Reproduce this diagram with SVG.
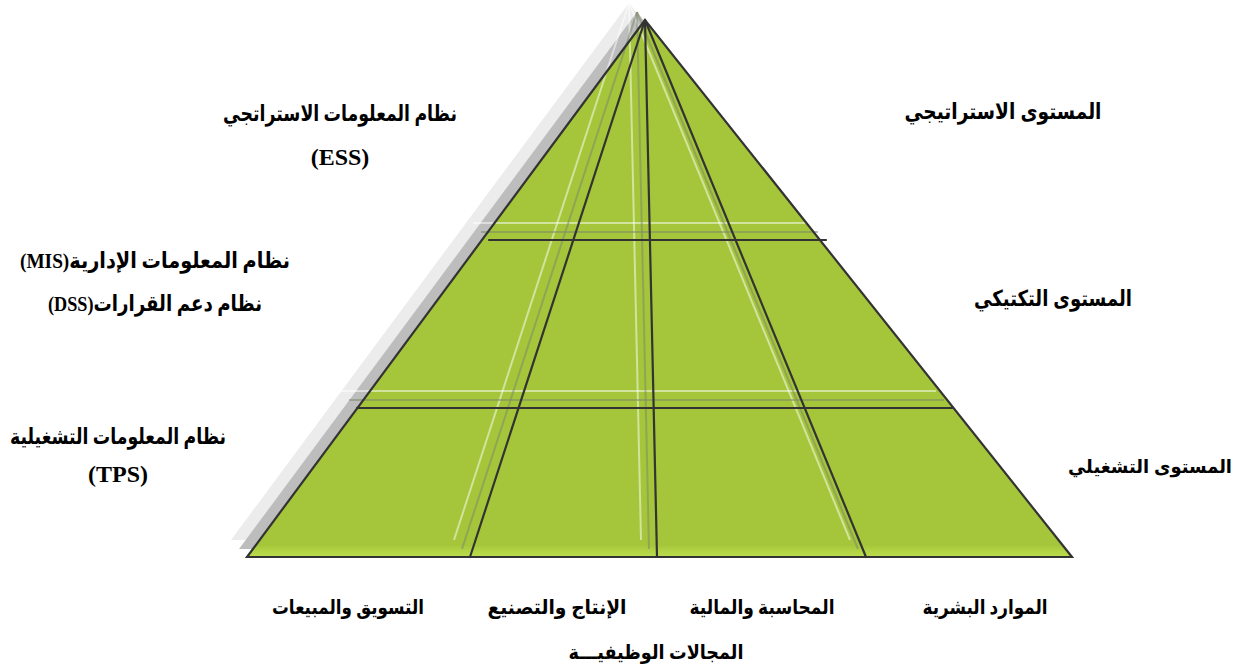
<svg xmlns="http://www.w3.org/2000/svg" width="1248" height="668" viewBox="0 0 1248 668">
<style>
.lbl{font-family:"Liberation Serif","DejaVu Sans",serif;font-weight:bold;fill:#000;}
.rlbl{font-family:"Liberation Sans","DejaVu Sans",sans-serif;font-weight:bold;fill:#000;}
.dark{stroke:#333;stroke-width:2.2;fill:none;stroke-linecap:round;}
.ghostg{stroke:#7f8a6a;stroke-opacity:0.55;stroke-width:2;fill:none;}
.ghostw{stroke:#ffffff;stroke-opacity:0.5;stroke-width:2;fill:none;}
</style>
<defs>
<linearGradient id="band" x1="0" y1="0" x2="0" y2="1">
<stop offset="0" stop-color="#a8c93c"/>
<stop offset="1" stop-color="#bcdf4e"/>
</linearGradient>
</defs>
<rect width="1248" height="668" fill="#ffffff"/>
<g id="pyramid">
<polygon points="629,3 231,540 1056,540" fill="#ececec"/>
<polygon points="637,12 239,549 1064,549" fill="#bdbdbd"/>
<polygon points="645,20 247,557 1072,557" fill="#a5c63a"/>
<polygon points="255,546 1064,546 1072,557 247,557" fill="url(#band)"/>
</g>
<g id="connectors">
<g id="ghost-white">
<line class="ghostw" x1="629" y1="3" x2="454" y2="540"/>
<line class="ghostw" x1="629" y1="3" x2="641" y2="540"/>
<line class="ghostw" x1="629" y1="3" x2="850" y2="540"/>
<line class="ghostw" x1="473" y1="223" x2="810" y2="223"/>
<line class="ghostw" x1="341" y1="391" x2="936" y2="391"/>
</g>
<g id="ghost-gray">
<line class="ghostg" x1="637" y1="12" x2="462" y2="549"/>
<line class="ghostg" x1="637" y1="12" x2="649" y2="549"/>
<line class="ghostg" x1="637" y1="12" x2="858" y2="549"/>
<line class="ghostg" x1="481" y1="232" x2="818" y2="232"/>
<line class="ghostg" x1="349" y1="400" x2="944" y2="400"/>
</g>
<g id="grid">
<polygon class="dark" points="645,20 247,557 1072,557"/>
<line class="dark" x1="645" y1="20" x2="470" y2="557"/>
<line class="dark" x1="645" y1="20" x2="657" y2="557"/>
<line class="dark" x1="645" y1="20" x2="866" y2="557"/>
<line class="dark" x1="489" y1="240" x2="826" y2="240"/>
<line class="dark" x1="357" y1="408" x2="952" y2="408"/>
</g>
</g>
<g id="left-labels">
<g id="ess">
<text class="lbl" x="340" y="121" font-size="22" text-anchor="middle" direction="rtl" textLength="234" lengthAdjust="spacingAndGlyphs">نظام المعلومات الاستراتجي</text>
<text class="lbl" x="340" y="165" font-size="24" text-anchor="middle">(ESS)</text>
</g>
<g id="mis-dss">
<text class="lbl" x="155" y="268" font-size="22" text-anchor="middle" direction="rtl" textLength="270" lengthAdjust="spacingAndGlyphs">نظام المعلومات الإدارية(MIS)</text>
<text class="lbl" x="155" y="311" font-size="22" text-anchor="middle" direction="rtl" textLength="214" lengthAdjust="spacingAndGlyphs">نظام دعم القرارات(DSS)</text>
</g>
<g id="tps">
<text class="lbl" x="118" y="444" font-size="22" text-anchor="middle" direction="rtl" textLength="216" lengthAdjust="spacingAndGlyphs">نظام المعلومات التشغيلية</text>
<text class="lbl" x="118" y="482" font-size="24" text-anchor="middle">(TPS)</text>
</g>
</g>
<g id="right-labels">
<text id="strategic" class="rlbl" x="1003" y="119" font-size="22" text-anchor="middle" direction="rtl" textLength="197" lengthAdjust="spacingAndGlyphs">المستوى الاستراتيجي</text>
<text id="tactical" class="rlbl" x="1053" y="306" font-size="22" text-anchor="middle" direction="rtl" textLength="158" lengthAdjust="spacingAndGlyphs">المستوى التكتيكي</text>
<text id="operational" class="rlbl" x="1150" y="473" font-size="19" text-anchor="middle" direction="rtl" textLength="164" lengthAdjust="spacingAndGlyphs">المستوى التشغيلي</text>
</g>
<g id="bottom-labels">
<text id="hr" class="lbl" x="985" y="614" font-size="20" text-anchor="middle" direction="rtl" textLength="125" lengthAdjust="spacingAndGlyphs">الموارد البشرية</text>
<text id="fin" class="lbl" x="762" y="614" font-size="20" text-anchor="middle" direction="rtl" textLength="145" lengthAdjust="spacingAndGlyphs">المحاسبة والمالية</text>
<text id="prod" class="lbl" x="557" y="614" font-size="20" text-anchor="middle" direction="rtl" textLength="139" lengthAdjust="spacingAndGlyphs">الإنتاج والتصنيع</text>
<text id="mkt" class="lbl" x="348" y="614" font-size="20" text-anchor="middle" direction="rtl" textLength="152" lengthAdjust="spacingAndGlyphs">التسويق والمبيعات</text>
<text id="func" class="lbl" x="656" y="659" font-size="20" text-anchor="middle" direction="rtl" textLength="175" lengthAdjust="spacingAndGlyphs">المجالات الوظيفيـــة</text>
</g>
</svg>
